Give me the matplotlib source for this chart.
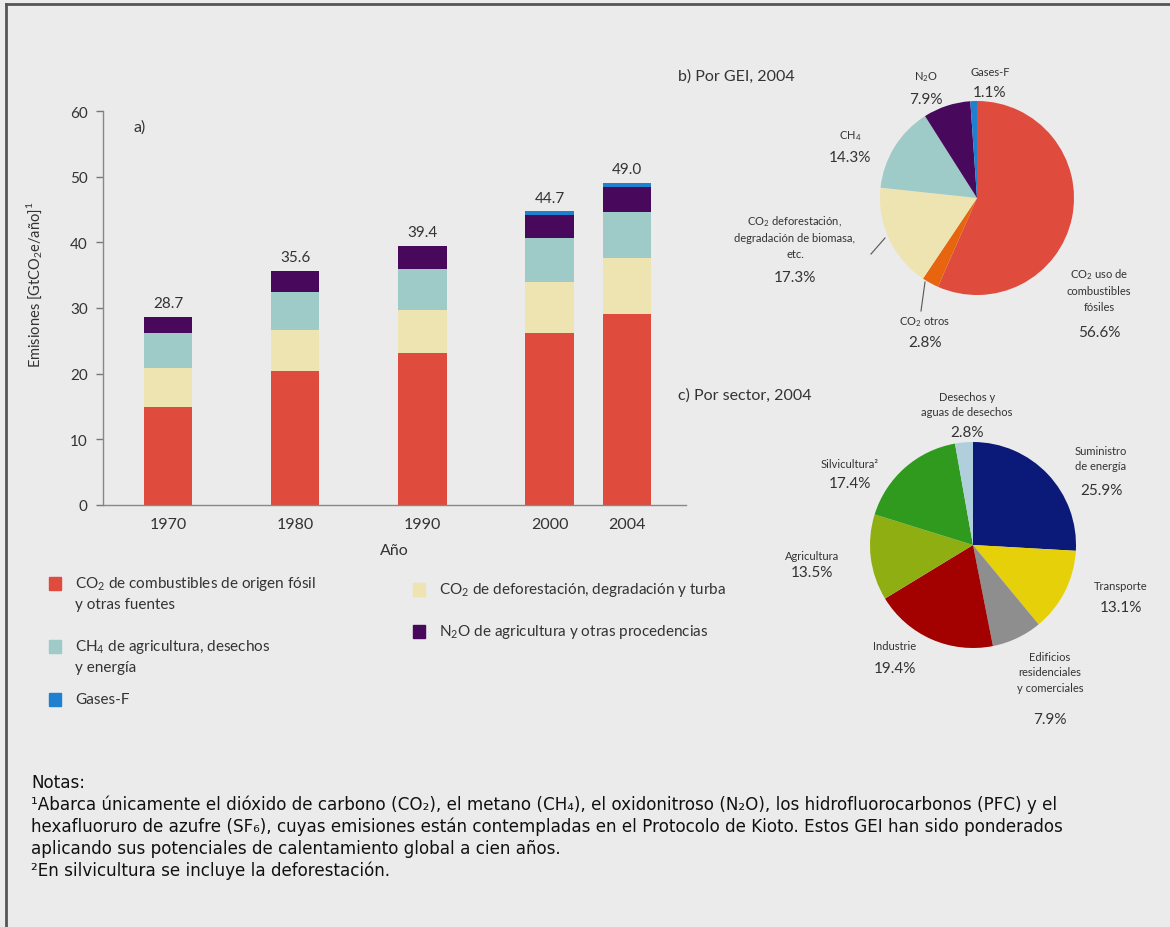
import matplotlib
matplotlib.use('Agg')
import matplotlib.pyplot as plt
from matplotlib.patches import Rectangle
from matplotlib.lines import Line2D

# --- data -------------------------------------------------------------
years = ['1970', '1980', '1990', '2000', '2004']
co2_fossil = [15.0, 20.4, 23.2, 26.2, 29.1]
co2_defor = [5.9, 6.2, 6.5, 7.8, 8.5]
ch4 = [5.3, 5.9, 6.2, 6.7, 7.0]
n2o = [2.5, 3.1, 3.5, 3.5, 3.9]
f_gases = [0.0, 0.0, 0.0, 0.5, 0.5]
totals = [28.7, 35.6, 39.4, 44.7, 49.0]

gei_labels = ['CO$_2$ uso de\ncombustibles\nfósiles', 'CO$_2$ otros',
              'CO$_2$ deforestación,\ndegradación de biomasa,\netc.',
              'CH$_4$', 'N$_2$O', 'Gases-F']
gei_share = [56.6, 2.8, 17.3, 14.3, 7.9, 1.1]

sector_labels = ['Suministro\nde energía', 'Transporte',
                 'Edificios\nresidenciales\ny comerciales', 'Industrie',
                 'Agricultura', 'Silvicultura²', 'Desechos y\naguas de desechos']
sector_share = [25.9, 13.1, 7.9, 19.4, 13.5, 17.4, 2.8]

# --- styles -----------------------------------------------------------
W, H = 1170, 928
BG = '#ebebeb'
TXT = '#333333'
FONT = ['Lato', 'DejaVu Sans']
NOTE_FONT = ['DejaVu Sans']
plt.rcParams['font.family'] = FONT
plt.rcParams['mathtext.fontset'] = 'custom'
plt.rcParams['mathtext.rm'] = 'Lato'

c_red, c_cream, c_teal, c_purple, c_blue = '#df4b3c', '#eee4b1', '#9ecac8', '#48085c', '#1f80d0'
gei_colors = [c_red, '#e8650f', c_cream, c_teal, c_purple, c_blue]
sector_colors = ['#0b1a78', '#e6d00a', '#8e8e8e', '#a30000', '#8fae12', '#2f9a1e', '#afcfdc']


def fx(px):
    return px / W


def fy(py):
    return 1 - py / H


fig = plt.figure(figsize=(W / 100, H / 100), dpi=100, facecolor=BG)

# frame (left and top edges only)
fig.add_artist(Line2D([fx(6), fx(6)], [fy(5), 0], color='#555555', lw=2))
fig.add_artist(Line2D([fx(6), 1], [fy(5), fy(5)], color='#555555', lw=2))

# --- a) stacked bars --------------------------------------------------
ax = fig.add_axes([fx(103), fy(506), fx(686) - fx(103), fy(112) - fy(506)])
ax.set_facecolor(BG)
pos = [0, 1, 2, 3, 3.61]
bw = 0.38
bottom = [0.0] * len(years)
for vals, col in [(co2_fossil, c_red), (co2_defor, c_cream), (ch4, c_teal),
                  (n2o, c_purple), (f_gases, c_blue)]:
    ax.bar(pos, vals, bw, bottom=bottom, color=col, linewidth=0)
    bottom = [b + v for b, v in zip(bottom, vals)]
for p, t in zip(pos, totals):
    ax.annotate(f'{t:.1f}', (p, t), xytext=(0, 5), textcoords='offset points',
                ha='center', va='bottom', fontsize=11, color=TXT)

ax.set_xlim(-0.511, 4.072)
ax.set_ylim(0, 60)
ax.set_yticks(range(0, 61, 10))
ax.set_xticks(pos)
ax.set_xticklabels(years)
ax.tick_params(axis='x', length=0, pad=9, labelsize=11.5, labelcolor=TXT)
ax.tick_params(axis='y', length=5, width=1, color='#777777', pad=6,
               labelsize=11, labelcolor=TXT)
for s in ['top', 'right']:
    ax.spines[s].set_visible(False)
for s in ['left', 'bottom']:
    ax.spines[s].set_color('#888888')
    ax.spines[s].set_linewidth(1)
ax.set_xlabel('Año', fontsize=11.5, color=TXT, labelpad=8)
fig.text(fx(35), fy(285), 'Emisiones [GtCO$_2$e/año]$^1$', rotation=90,
         ha='center', va='center', fontsize=10.5, color=TXT)
fig.text(fx(134), fy(128), 'a)', ha='left', va='center', fontsize=11.5, color=TXT)

# --- legend -----------------------------------------------------------
legend_items = [
    (c_red, 49, 584, ['CO$_2$ de combustibles de origen fósil', 'y otras fuentes']),
    (c_teal, 49, 647, ['CH$_4$ de agricultura, desechos', 'y energía']),
    (c_blue, 49, 700, ['Gases-F']),
    (c_cream, 413, 590, ['CO$_2$ de deforestación, degradación y turba']),
    (c_purple, 413, 632, ['N$_2$O de agricultura y otras procedencias']),
]
for col, x0, y0, lines in legend_items:
    fig.add_artist(Rectangle((fx(x0), fy(y0 + 7)), fx(12), 13 / H, color=col,
                             transform=fig.transFigure))
    for k, lab in enumerate(lines):
        fig.text(fx(x0 + 26), fy(y0 + 21 * k), lab, ha='left', va='center',
                 fontsize=11, color=TXT)

# --- b) pie by gas ----------------------------------------------------
rb = 97
axb = fig.add_axes([fx(977 - rb), fy(199 + rb), 2 * rb / W, 2 * rb / H])
axb.pie(gei_share, colors=gei_colors, startangle=90, counterclock=False,
        wedgeprops=dict(linewidth=0))
axb.set_xlim(-1, 1)
axb.set_ylim(-1, 1)
axb.set_aspect('equal')
fig.text(fx(678), fy(77), 'b) Por GEI, 2004', ha='left', va='center', fontsize=11.5, color=TXT)

gei_pos = [(1099, 290, 333), (925, 322, 343), (795, 237, 278),
           (850, 136, 158), (926, 77, 100), (990, 72, 93)]
for lab, val, (x0, yl, yv) in zip(gei_labels, gei_share, gei_pos):
    fig.text(fx(x0), fy(yl), lab, ha='center', va='center', fontsize=8,
             color=TXT, linespacing=1.5)
    fig.text(fx(x0), fy(yv), f'{val:.1f}%', ha='center', va='center',
             fontsize=11, color=TXT)
fig.add_artist(Line2D([fx(871), fx(885)], [fy(255), fy(239)], color='#555555', lw=0.8))
fig.add_artist(Line2D([fx(921), fx(925)], [fy(312), fy(283)], color='#555555', lw=0.8))

# --- c) pie by sector -------------------------------------------------
rc = 103
axc = fig.add_axes([fx(973 - rc), fy(546 + rc), 2 * rc / W, 2 * rc / H])
axc.pie(sector_share, colors=sector_colors, startangle=90, counterclock=False,
        wedgeprops=dict(linewidth=0))
axc.set_xlim(-1, 1)
axc.set_ylim(-1, 1)
axc.set_aspect('equal')
fig.text(fx(678), fy(396), 'c) Por sector, 2004', ha='left', va='center', fontsize=11.5, color=TXT)

sector_pos = [(1101, 459, 491), (1121, 587, 608), (1050, 673, 720),
              (895, 647, 669), (812, 557, 573), (850, 465, 484), (967, 405, 433)]
for lab, val, (x0, yl, yv) in zip(sector_labels, sector_share, sector_pos):
    fig.text(fx(x0), fy(yl), lab, ha='center', va='center', fontsize=8,
             color=TXT, linespacing=1.5)
    fig.text(fx(x0), fy(yv), f'{val:.1f}%', ha='center', va='center',
             fontsize=11, color=TXT)

# --- notes ------------------------------------------------------------
notes = [
    'Notas:',
    '¹Abarca únicamente el dióxido de carbono (CO₂), el metano (CH₄), el oxidonitroso (N₂O), '
    'los hidrofluorocarbonos (PFC) y el',
    'hexafluoruro de azufre (SF₆), cuyas emisiones están contempladas en el Protocolo de Kioto. '
    'Estos GEI han sido ponderados',
    'aplicando sus potenciales de calentamiento global a cien años.',
    '²En silvicultura se incluye la deforestación.',
]
for i, line in enumerate(notes):
    fig.text(fx(31), fy(783 + 22 * i), line, ha='left', va='center',
             fontsize=12.1, color='#111111', family=NOTE_FONT)

plt.savefig('out.png', dpi=100, facecolor=BG)
